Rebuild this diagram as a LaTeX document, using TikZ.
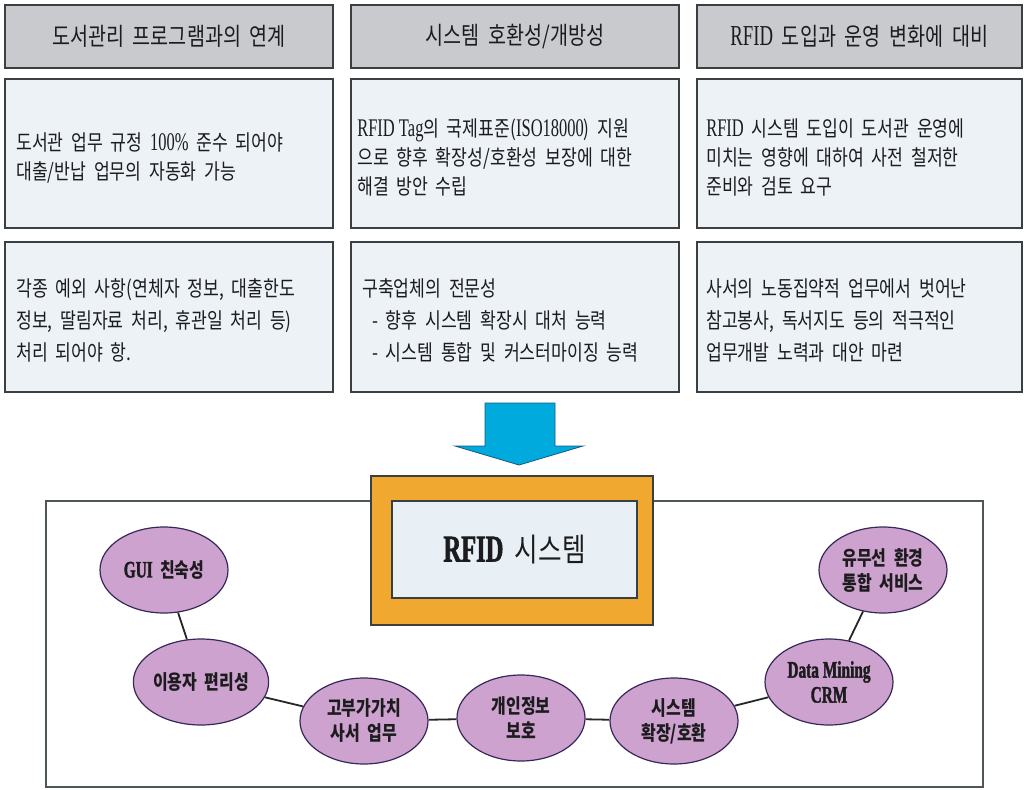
\documentclass[tikz,border=0pt]{standalone}
\usepackage{fontspec}
\setmainfont{Noto Sans CJK KR}[FakeStretch=0.8,WordSpace=2]
\newfontfamily\latfont{Liberation Serif}[FakeStretch=0.65,Scale=1.18]
\newfontfamily\latbfont{Liberation Serif Bold}[FakeStretch=0.65,Scale=1.18,FakeBold=1.5]
\newcommand\ltn[1]{{\latfont #1}}
\newcommand\ltb[1]{{\latbfont #1}}
\usetikzlibrary{shapes.geometric}

\definecolor{hdrgray}{RGB}{200,202,206}
\definecolor{cellfill}{RGB}{236,242,246}
\definecolor{edge}{RGB}{58,64,66}
\definecolor{framegray}{RGB}{78,86,88}
\definecolor{orangebox}{RGB}{240,168,48}
\definecolor{innerfill}{RGB}{232,240,245}
\definecolor{purplefill}{RGB}{206,162,206}
\definecolor{purpleedge}{RGB}{55,40,90}
\definecolor{arrowblue}{RGB}{0,170,220}
\definecolor{arrowedge}{RGB}{20,90,130}
\definecolor{ink}{RGB}{28,28,30}

\begin{document}
\begin{tikzpicture}[x=1pt,y=-1pt,
  hdr/.style={draw=edge, line width=1.8pt, fill=hdrgray, minimum height=63pt,
    inner sep=0pt, text=ink, font=\fontsize{24.5}{28}\selectfont},
  cell/.style={draw=edge, line width=1.8pt, fill=cellfill, inner sep=0pt},
  celltext/.style={anchor=west, align=left, inner sep=0pt, text=ink},
  rowone/.style={font=\fontsize{21.5}{29}\selectfont},
  rowtwo/.style={font=\fontsize{21.5}{32}\selectfont},
  ell/.style={ellipse, draw=purpleedge, line width=1.2pt, fill=purplefill,
    minimum width=128pt, minimum height=86pt, inner sep=0pt, align=center,
    text=ink, font=\bfseries\fontsize{20}{25}\selectfont},
  link/.style={line width=1.8pt, draw=black!85}]

\useasboundingbox (0,0) rectangle (1024,789);
\fill[white] (0,0) rectangle (1024,789);

% column headers
\node[hdr, minimum width=328pt] (h1) at (169,36.5) {도서관리 프로그램과의 연계};
\node[hdr, minimum width=328pt] (h2) at (515,36.5) {시스템 호환성/개방성};
\node[hdr, minimum width=325pt] (h3) at (859.5,36.5) {\ltn{RFID} 도입과 운영 변화에 대비};

% first row of detail boxes
\node[cell, minimum width=328pt, minimum height=149pt] (a1) at (169,153.5) {};
\node[cell, minimum width=328pt, minimum height=149pt] (a2) at (515,153.5) {};
\node[cell, minimum width=325pt, minimum height=149pt] (a3) at (859.5,153.5) {};
\node[celltext, rowone] (a1t) at ([xshift=12pt,yshift=-5pt]a1.west)
  {도서관 업무 규정 \ltn{100\%} 준수 되어야\\대출/반납 업무의 자동화 가능};
\node[celltext, rowone] (a2t) at ([xshift=7pt,yshift=-4pt]a2.west)
  {\ltn{RFID Tag}의 국제표준(\ltn{ISO18000}) 지원\\으로 향후 확장성/호환성 보장에 대한\\해결 방안 수립};
\node[celltext, rowone] (a3t) at ([xshift=10pt,yshift=-4pt]a3.west)
  {\ltn{RFID} 시스템 도입이 도서관 운영에\\미치는 영향에 대하여 사전 철저한\\준비와 검토 요구};

% second row of detail boxes
\node[cell, minimum width=328pt, minimum height=150pt] (b1) at (169,317) {};
\node[cell, minimum width=328pt, minimum height=150pt] (b2) at (515,317) {};
\node[cell, minimum width=325pt, minimum height=150pt] (b3) at (859.5,317) {};
\node[celltext, rowtwo] (b1t) at ([xshift=12pt,yshift=-3pt]b1.west)
  {각종 예외 사항(연체자 정보, 대출한도\\정보, 딸림자료 처리, 휴관일 처리 등)\\처리 되어야 항.};
\node[celltext, rowtwo] (b2t) at ([xshift=12pt,yshift=-3pt]b2.west)
  {구축업체의 전문성\\\hspace*{10pt}- 향후 시스템 확장시 대처 능력\\\hspace*{10pt}- 시스템 통합 및 커스터마이징 능력};
\node[celltext, rowtwo] (b3t) at ([xshift=10pt,yshift=-3pt]b3.west)
  {사서의 노동집약적 업무에서 벗어난\\참고봉사, 독서지도 등의 적극적인\\업무개발 노력과 대안 마련};

% block arrow pointing down to the system
\coordinate (tip) at (519,465);
\draw[draw=arrowedge, fill=arrowblue, line width=0.8pt, line join=miter]
  (485,403) -- (555,403) -- (555,446) -- (583,446) -- (tip)
  -- (455,446) -- (485,446) -- cycle;

% outer frame of the system area
\node[draw=framegray, line width=1.8pt, minimum width=937pt, minimum height=286pt,
  inner sep=0pt] (frame) at (514.5,644) {};

% central RFID system box
\node[draw=edge, line width=1.2pt, fill=orangebox, minimum width=282pt,
  minimum height=149pt, inner sep=0pt] (sysframe) at (512,550.5) {};
\node[draw=edge, line width=1.5pt, fill=innerfill, minimum width=245pt,
  minimum height=97pt, inner sep=0pt, text=ink,
  font=\fontsize{32}{36}\selectfont] (sys) at (514.5,549.5)
  {\ltb{RFID} 시스템};

% feature ellipses
\node[ell] (e1) at (164,570) {\ltb{GUI} 친숙성};
\node[ell] (e2) at (201,682) {이용자 편리성};
\node[ell] (e3) at (364,721) {고부가가치\\사서 업무};
\node[ell] (e4) at (521,718) {개인정보\\보호};
\node[ell] (e5) at (674,721) {시스템\\확장/호환};
\node[ell] (e6) at (829,682) {\ltb{Data Mining}\\\ltb{CRM}};
\node[ell] (e7) at (883,570) {유무선 환경\\통합 서비스};

% chain of links between features
\draw[link] (e1) -- (e2);
\draw[link] (e2) -- (e3);
\draw[link] (e3) -- (e4);
\draw[link] (e4) -- (e5);
\draw[link] (e5) -- (e6);
\draw[link] (e6) -- (e7);

\end{tikzpicture}
\end{document}
